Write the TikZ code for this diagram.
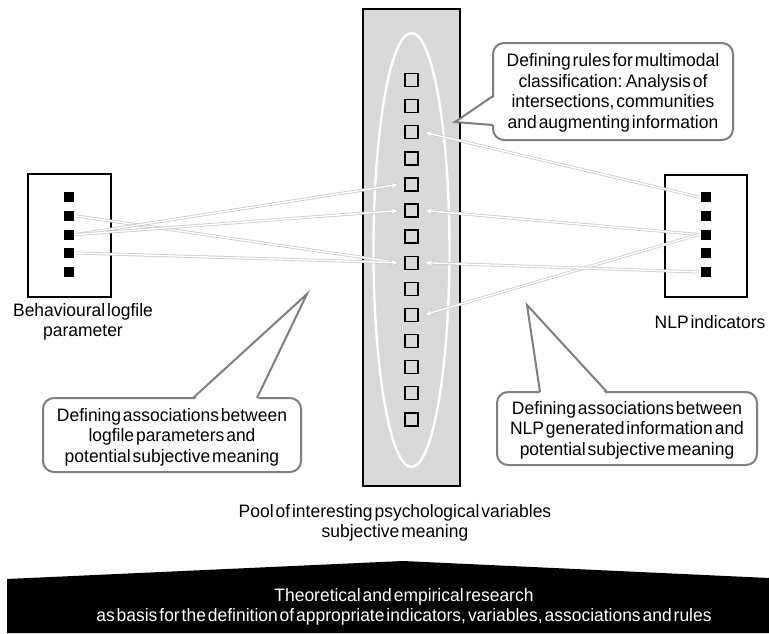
\documentclass[tikz,border=0pt]{standalone}
\usepackage{fontspec}
\setmainfont{Liberation Sans}[WordSpace=0.4,FakeStretch=0.97]
\usetikzlibrary{arrows.meta}
\definecolor{panelgray}{HTML}{D9D9D9}
\definecolor{calloutgray}{HTML}{7F7F7F}
\begin{document}
\begin{tikzpicture}[x=1pt,y=-1pt,
  txt/.style={font=\fontsize{18}{20.5}\selectfont, align=center, inner sep=0pt},
  vsq/.style={draw=black, line width=1.4pt, minimum size=13pt, inner sep=0pt},
  bsq/.style={fill=black, minimum size=10pt, inner sep=0pt},
  framebox/.style={draw=black, line width=2.4pt, inner sep=0pt},
  callout/.style={draw=calloutgray, line width=2pt, fill=white},
  calloutedge/.style={draw=calloutgray, line width=2pt, line join=miter},
  connback/.style={draw=gray!40, line width=3pt, -{Stealth[length=10pt,width=9pt]}},
  connfront/.style={draw=white, line width=1.4pt, -{Stealth[length=6.5pt,width=5.5pt]}, shorten >=1.6pt},
]
\useasboundingbox (0,0) rectangle (769,633);
\fill[white] (0,0) rectangle (769,633);

% central panel
\node[framebox, fill=panelgray, minimum width=97pt, minimum height=477pt] (panel) at (411.5,247.5) {};
\draw[white, line width=2.4pt] (411.5,250) ellipse [x radius=38pt, y radius=217pt];
\foreach \i in {1,...,14}
  \node[vsq] (S\i) at (411.5,{80+(\i-1)*26.1}) {};

% left box
\node[framebox, minimum width=83pt, minimum height=123pt] (lbox) at (69.5,235.5) {};
\foreach \i/\y in {1/197,2/216,3/234.5,4/253,5/272}
  \node[bsq] (L\i) at (69,\y) {};
\node[txt] (llab) at (83,322) {Behavioural logfile\\parameter};

% right box
\node[framebox, minimum width=82pt, minimum height=122pt] (rbox) at (706,236) {};
\foreach \i/\y in {1/197,2/216,3/234.5,4/253,5/272}
  \node[bsq] (R\i) at (706,\y) {};
\node[txt] (rlab) at (710,322) {NLP indicators};

% connectors
\foreach \a/\b in {L2/S8, L3/S5, L3/S6, L4/S8} {
  \draw[connback] ([xshift=2pt]\a.east) -- ([xshift=-5pt]\b.west);
  \draw[connfront] ([xshift=2pt]\a.east) -- ([xshift=-5pt]\b.west);
}
\foreach \a/\b in {R1/S3, R3/S6, R3/S10, R5/S8} {
  \draw[connback] ([xshift=-2pt]\a.west) -- ([xshift=5pt]\b.east);
  \draw[connfront] ([xshift=-2pt]\a.west) -- ([xshift=5pt]\b.east);
}

% top callout
\draw[callout, rounded corners=11pt] (493,43) rectangle (733,140);
\fill[white] (496,96) -- (455,122) -- (496,125) -- cycle;
\draw[calloutedge] (493,96) -- (455,122) -- (493,125);
\node[txt] (ctop) at (613,93) {Defining rules for multimodal\\classification: Analysis of\\intersections, communities\\and augmenting information};

% left callout
\draw[callout, rounded corners=11pt] (43,398) rectangle (301,472);
\fill[white] (193,401) -- (307,294) -- (257,401) -- cycle;
\draw[calloutedge] (193,398) -- (307,294) -- (257,398);
\node[txt] (cleft) at (172,437) {Defining associations between\\logfile parameters and\\potential subjective meaning};

% right callout
\draw[callout, rounded corners=11pt] (497,392) rectangle (757,465);
\fill[white] (540,395) -- (527,305) -- (607,395) -- cycle;
\draw[calloutedge] (540,392) -- (527,305) -- (607,392);
\node[txt] (cright) at (627,430) {Defining associations between\\NLP generated information and\\potential subjective meaning};

% pool label
\node[txt] (pool) at (395,523) {Pool of interesting psychological variables\\subjective meaning};

% bottom banner
\fill[black] (7,579) -- (403,561) -- (769,578) -- (769,633) -- (7,633) -- cycle;
\node[txt, text=white] (research) at (404,607) {Theoretical and empirical research\\as basis for the definition of appropriate indicators, variables, associations and rules};
\end{tikzpicture}
\end{document}
